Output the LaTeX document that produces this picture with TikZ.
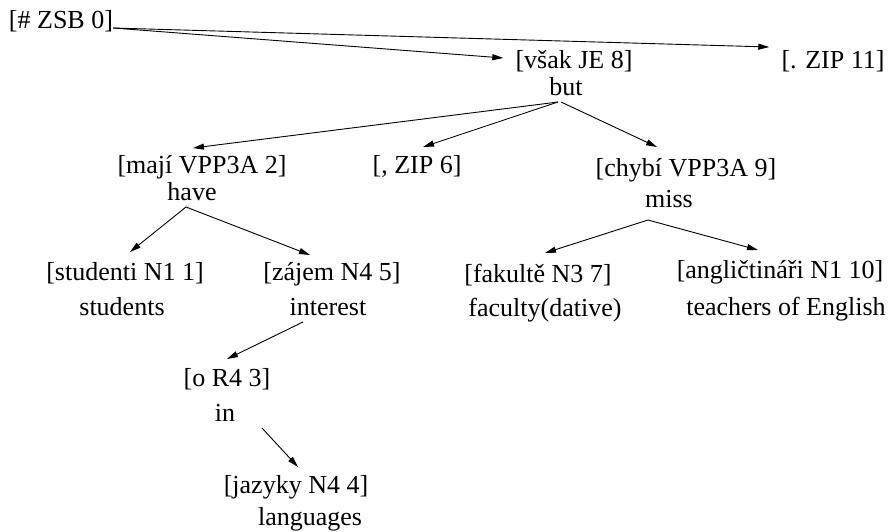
\documentclass[tikz,border=0pt]{standalone}
\usepackage{fontspec}
\setmainfont{Liberation Serif}
\usetikzlibrary{arrows.meta,calc}

\tikzstyle{tag}=[inner sep=0pt,anchor=base,font=\fontsize{26}{30}\selectfont]
\tikzstyle{gloss}=[tag]
\tikzstyle{dep}=[draw,line width=0.9pt,-{Triangle[length=11pt,width=6pt]}]

\begin{document}
\begin{tikzpicture}[x=1pt,y=-1pt]
    \useasboundingbox (0,0) rectangle (891,531);
    % First the tree nodes (tag and position)
    \foreach \pos/\name/\word in {{(61,28)/zsb/[\# ZSB 0]},{(574,68)/vsak/[však JE 8]},
        {(833,68)/zip11/[. ZIP 11]},{(202,173)/maji/[mají VPP3A 2]},{(417,173)/zip6/[, ZIP 6]},
        {(686,176)/chybi/[chybí VPP3A 9]},{(125,280)/studenti/[studenti N1 1]},
        {(332,280)/zajem/[zájem N4 5]},{(538,282)/fakulte/[fakultě N3 7]},
        {(780,278)/anglictinari/[angličtináři N1 10]},{(227,386)/oR/[o R4 3]},
        {(296,493)/jazyky/[jazyky N4 4]}}
    \node[tag] (\name) at \pos {\word};
    % Second the English glosses under them
    \foreach \pos/\name/\word in {{(566,95)/but/but},{(192,200)/have/have},{(669,207)/miss/miss},
        {(122,315)/students/students},{(328,315)/interest/interest},
        {(545,316)/faculty/faculty(dative)},{(786,315)/teachers/teachers of English},
        {(225,421)/in/in},{(310,525)/languages/languages}}
    \node[gloss] (\name) at \pos {\word};
    % Dependencies
    \path[dep] (zsb.base east) -- ($(vsak.base west)+(-12,-10)$);
    \path[dep] (zsb.base east) -- ($(zip11.base west)+(-12,-21)$);
    \path[dep] ($(but.base)+(-8,7)$) -- ($(maji.base)+(-9,-25)$);
    \path[dep] ($(but.base)+(-8,7)$) -- ($(zip6.base)+(6,-26)$);
    \path[dep] ($(but.base)+(-5,7)$) -- ($(chybi.base)+(-29,-29)$);
    \path[dep] ($(have.base)+(-6,7)$) -- ($(studenti.base)+(5,-28)$);
    \path[dep] ($(have.base)+(-6,7)$) -- ($(zajem.base)+(-22,-25)$);
    \path[dep] ($(miss.base)+(-21,13)$) -- ($(fakulte.base)+(7,-29)$);
    \path[dep] ($(miss.base)+(-21,13)$) -- ($(anglictinari.base)+(-22,-28)$);
    \path[dep] ($(interest.base)+(-25,7)$) -- ($(oR.base)+(0,-27)$);
    \path[dep] ($(in.base)+(37,7)$) -- ($(jazyky.base)+(2,-26)$);
\end{tikzpicture}
\end{document}
